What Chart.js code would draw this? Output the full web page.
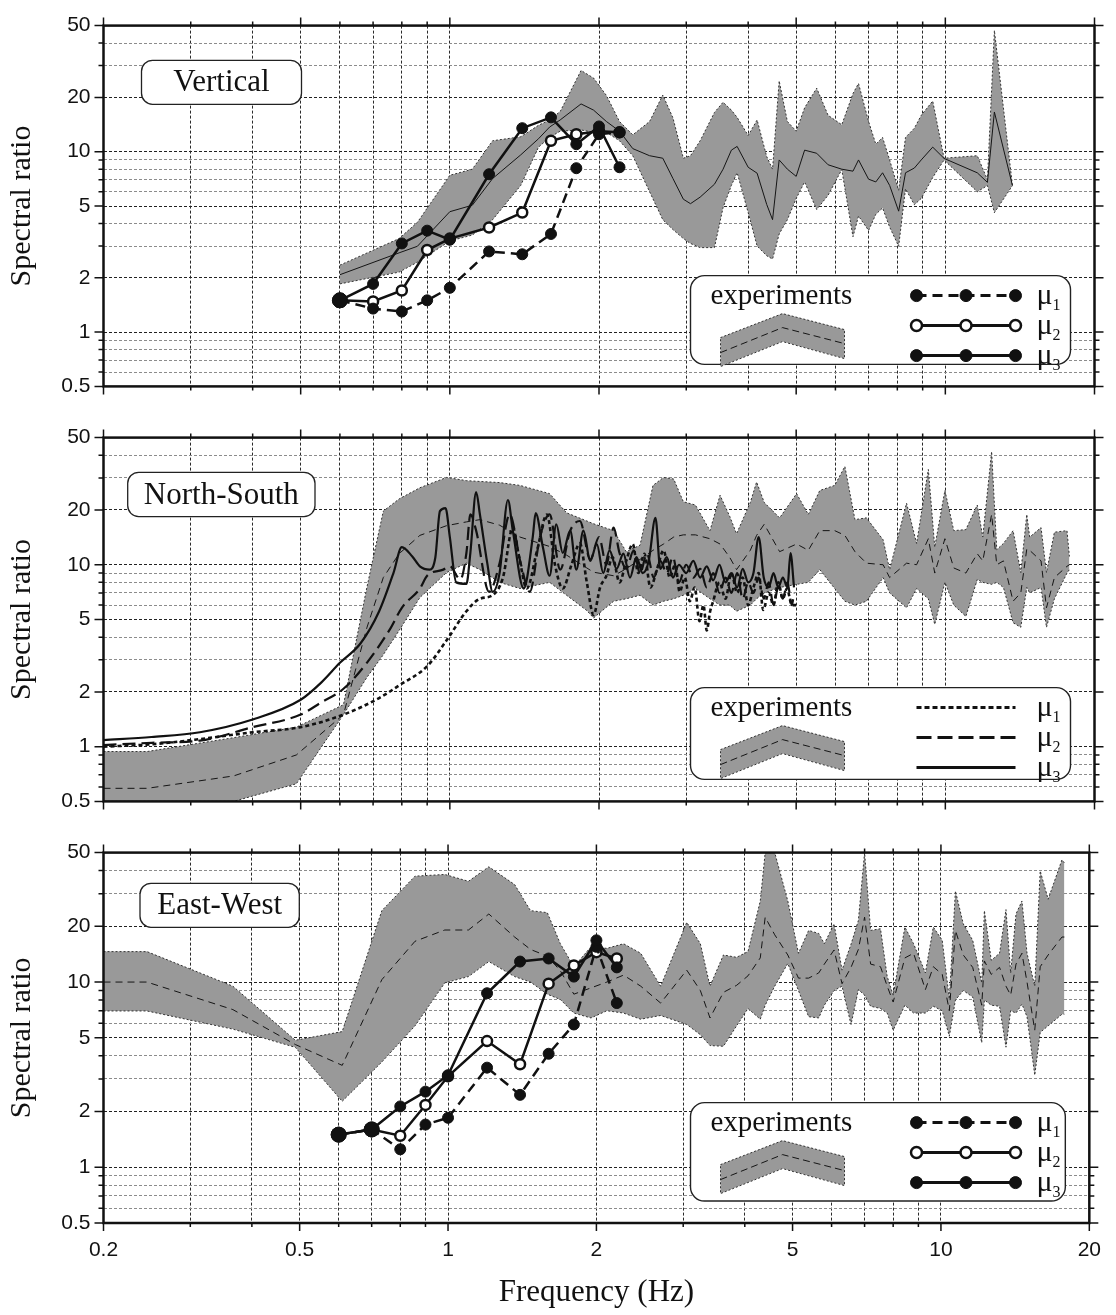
<!DOCTYPE html>
<html><head><meta charset="utf-8"><title>Spectral ratio</title>
<script src="https://cdn.jsdelivr.net/npm/chart.js@4.4.1/dist/chart.umd.min.js"></script>
<style>
html,body{margin:0;padding:0;background:#fff;}
#wrap{position:relative;width:1116px;height:1315px;overflow:hidden;background:#fff;}
#wrap canvas{position:absolute;left:0;}
</style></head><body><div id="wrap">
<canvas id="cV" width="1116" height="412" style="top:0px;width:1116px;height:412px"></canvas>
<canvas id="cN" width="1116" height="415" style="top:412px;width:1116px;height:415px"></canvas>
<canvas id="cE" width="1116" height="488" style="top:827px;width:1116px;height:488px"></canvas>
</div>
<script>
// ---------------- DATA ----------------
const X_TICKS = [0.2,0.3,0.4,0.5,0.6,0.7,0.8,0.9,1,2,3,4,5,6,7,8,9,10,20];
const X_LABELS = [0.2,0.5,1,2,5,10,20];
const Y_TICKS = [0.5,0.6,0.7,0.8,0.9,1,2,3,4,5,6,7,8,9,10,20,30,40,50];
const Y_LABELS = [0.5,1,2,5,10,20,50];
const Y_MAJOR_GRID = [1,2,5,10,20];
const X_TITLE = 'Frequency (Hz)';
const Y_TITLE = 'Spectral ratio';
const PANEL_NAMES = ['Vertical','North-South','East-West'];
const LEGEND_BAND = 'experiments';
const LEGEND_MODELS = ['1','2','3'];   // subscripts of μ

// model frequencies (panels Vertical and East-West)
const MODEL_F = [0.6,0.7,0.8,0.9,1.0,1.2,1.4,1.6,1.8,2.0,2.2];

// ---- Vertical ----
const V_MU1 = [1.5,1.35,1.3,1.5,1.76,2.8,2.7,3.5,8.1,12.5,12.8];
const V_MU2 = [1.5,1.48,1.7,2.85,3.3,3.8,4.6,11.5,12.5,13.0,12.8];
const V_MU3 = [1.5,1.85,3.1,3.65,3.25,7.5,13.5,15.5,11.0,13.8,8.2];
const V_F = [0.6,0.79,0.86,1.0,1.11,1.22,1.39,1.51,1.59,1.67,
  1.84,1.95,2.07,2.2,2.34,2.53,2.69,2.82,2.96,3.06,
  3.2,3.42,3.56,3.7,3.8,4.0,4.17,4.36,4.48,4.62,
  4.8,5.0,5.2,5.5,5.8,6.18,6.51,6.68,7.0,7.24,
  7.47,7.72,8.05,8.31,8.66,8.94,9.43,9.94,11.6,12.16,
  12.56,13.66];
const V_LO = [1.85,2.15,2.44,3.2,3.45,4.2,6.5,10.6,12.0,13.0,
  13.2,12.8,12.8,11.5,9.5,6.0,4.2,3.7,3.3,3.1,
  2.94,2.94,4.9,6.5,7.65,4.6,3.0,2.65,2.54,3.5,
  4.2,5.5,6.8,4.78,5.74,7.96,3.38,4.4,3.66,4.5,
  4.88,3.82,2.99,6.23,5.08,5.51,7.19,9.0,6.0,6.49,
  4.59,6.49];
const V_MID = [2.08,2.75,2.99,4.65,5.05,7.1,9.6,11.8,13.7,15.0,
  18.4,17.0,14.7,13.0,10.4,9.5,9.2,7.1,5.45,5.15,
  5.6,6.6,8.0,10.2,10.7,8.2,7.6,5.1,4.2,9.0,
  8.0,7.3,10.2,9.8,8.46,8.0,7.8,9.0,7.04,6.8,
  7.64,6.5,4.68,7.64,8.12,9.0,10.6,9.18,7.64,6.76,
  16.6,6.49];
const V_HI = [2.35,3.3,4.06,7.4,8.0,11.5,12.1,14.0,15.0,16.7,
  28.2,25.6,20.5,14.7,12.4,14.7,20.6,15.4,9.2,9.5,
  11.5,16.5,18.8,17.0,15.5,12.3,15.0,9.4,8.0,24.7,
  14.7,13.0,17.5,22.5,15.9,14.1,21.0,23.9,14.7,11.0,
  12.0,9.0,6.1,12.0,13.5,15.9,19.1,9.2,9.5,7.0,
  47,6.49];

// ---- North-South ----
const N_F = [0.2,0.245,0.366,0.49,0.61,0.68,0.734,0.79,0.87,0.985,
  1.08,1.15,1.26,1.385,1.59,1.72,1.89,1.95,2.14,2.27,
  2.42,2.57,2.7,2.83,2.96,3.13,3.35,3.51,3.67,3.79,
  4.04,4.16,4.31,4.63,5.01,5.29,5.58,5.98,6.27,6.57,
  6.93,7.49,7.72,8.35,8.75,9.24,9.52,9.98,10.4,11.0,
  11.6,11.9,12.4,12.7,13.1,13.7,14.2,14.6,14.8,15.6,
  16.0,16.6,17.6,17.8];
const N_HI = [0.94,0.94,1.12,1.28,1.7,7.5,19.7,23,26.5,30.2,
  29,28.7,28.3,27.3,24.6,19.3,17.4,16.8,15.4,11.8,
  12.8,27.3,30.2,29.6,22.2,21.3,15.4,24.1,18.5,14.8,
  22,28.5,22,18.1,24.6,18.9,25.6,27.3,34.7,17.7,
  18.1,13.7,9.4,21.8,13.1,33.4,12.5,25.6,15.4,15.6,
  21.3,14.2,41.9,12.1,13.1,15.4,9.06,18.9,14.2,16.0,
  9.06,15.1,15.4,11.1];
const N_LO = [0.5,0.5,0.5,0.625,1.5,2.4,3.2,4.35,6.6,9.06,
  10.2,9.4,8.0,7.4,8.0,6.8,5.6,5.1,6.3,6.5,
  6.8,6.0,6.3,6.5,6.8,7.4,6.5,6.0,6.0,5.55,
  6.0,6.5,7.0,7.5,7.8,8.0,9.4,7.4,6.3,6.0,
  6.3,8.5,7.0,5.8,7.4,6.5,4.7,8.0,6.0,5.2,
  8.3,8.0,7.8,8.0,7.5,4.8,4.53,7.5,7.0,7.5,
  4.53,6.5,9.0,9.4];
const N_MID = [0.59,0.59,0.69,0.9,1.5,4.5,8.5,11.5,14.5,16.4,
  17.2,17.7,16.5,14.2,12.6,11.3,9.6,9.1,8.7,9.5,
  10.7,12.0,13.0,14.2,14.6,14.6,13.9,13.0,11.0,9.4,
  12,14.5,16.7,11.8,13.0,12.0,15.4,15.4,14.5,11.8,
  10.2,10.0,8.5,10.2,10.0,13.9,9.0,13.9,9.6,9.0,
  11.5,10.5,18.9,10.0,10.5,6.3,7.0,12.2,12.0,10.5,
  5.8,8.5,9.8,10.0];
const N_MU1_F = [0.2,0.25,0.313,0.4,0.5,0.61,0.72,0.79,0.9,0.985,
  1.08,1.15,1.22,1.28,1.34,1.38,1.43,1.5,1.57,1.63,
  1.69,1.76,1.83,1.89,1.95,2.01,2.07,2.13,2.2,2.27,
  2.34,2.4,2.47,2.54,2.62,2.7,2.78,2.85,2.91,2.98,
  3.05,3.12,3.19,3.25,3.3,3.35,3.4,3.5,3.6,3.7,
  3.8,3.9,4.0,4.1,4.2,4.29,4.4,4.5,4.6,4.7,
  4.79,4.9,5.0];
const N_MU1 = [1.0,1.03,1.1,1.2,1.28,1.5,1.85,2.17,2.77,3.84,
  5.55,6.5,6.8,8.5,16.0,11,7.4,12,18.9,10,
  7.4,10,13.1,8,5.3,7.5,8.7,11,8.0,10.5,
  13,9.0,11.5,7.5,9.5,12,8.5,10,7.1,8.5,
  6.3,7.5,4.9,6.0,4.35,5.5,6.3,8.0,6.5,9.0,
  7.0,8.5,6.0,7.5,9.0,5.65,7.0,6.0,8.0,6.5,
  7.4,6.0,6.0];
const N_MU2_F = [0.2,0.25,0.313,0.4,0.5,0.55,0.61,0.68,0.76,0.8,
  0.87,0.9,0.97,1.0,1.05,1.08,1.1,1.13,1.2,1.26,
  1.32,1.39,1.45,1.52,1.59,1.67,1.75,1.83,1.92,2.0,
  2.07,2.14,2.2,2.27,2.35,2.42,2.5,2.58,2.66,2.74,
  2.82,2.9,3.0,3.1,3.2,3.3,3.4,3.5,3.6,3.7,
  3.8,3.9,4.0,4.1,4.2,4.3,4.4,4.5,4.6,4.7,
  4.8,4.9,4.95];
const N_MU2 = [1.02,1.05,1.08,1.28,1.5,1.75,2.08,2.89,4.5,5.8,
  7.4,8.7,9.4,9.8,8.3,11.6,18.9,15.4,7.1,10.2,
  18.9,10.2,7.1,14.2,18.9,9.4,15.4,17.4,10.7,14.2,
  10.0,16.0,11.6,9.5,12.0,9.0,11.5,8.5,10.5,9.0,
  11.0,8.0,10.0,8.5,9.5,7.5,9.0,7.0,8.5,7.0,
  9.0,6.5,8.0,7.0,8.5,6.5,8.0,6.0,7.5,6.5,
  8.0,6.0,7.0];
const N_MU3_F = [0.2,0.25,0.313,0.4,0.5,0.55,0.6,0.66,0.72,0.77,
  0.8,0.84,0.87,0.91,0.935,0.955,0.98,1.0,1.03,1.08,
  1.1,1.13,1.15,1.19,1.22,1.26,1.31,1.34,1.41,1.47,
  1.49,1.54,1.59,1.64,1.69,1.75,1.8,1.86,1.92,1.98,
  2.04,2.1,2.17,2.24,2.31,2.38,2.45,2.52,2.6,2.66,
  2.74,2.82,2.9,3.0,3.1,3.2,3.3,3.4,3.5,3.6,
  3.7,3.8,3.9,4.0,4.1,4.2,4.3,4.4,4.5,4.6,
  4.7,4.8,4.87,4.95];
const N_MU3 = [1.085,1.13,1.2,1.41,1.81,2.25,2.89,3.69,5.55,9.06,
  12.5,11.1,9.8,9.4,11,19.7,20.5,14.2,8.0,7.85,
  11.6,25.1,18.9,10.2,7.1,9.0,22.7,15.4,7.4,14.2,
  19.2,12.6,8.7,16.7,11.6,15.4,9.4,15.4,10.5,13,
  9.0,12,9.5,11.5,8.5,11,9.0,10.5,18.1,9.5,
  11,8.5,10,9.0,10.5,8.5,9.8,8.2,10.0,8.0,
  9.0,7.5,9.5,8.0,9.0,14.2,8.5,7.5,9.0,7.5,
  8.5,7.5,11.6,7.5];

// ---- East-West ----
const E_MU1 = [1.5,1.6,1.25,1.7,1.85,3.45,2.46,4.1,5.9,15.5,7.7];
const E_MU2 = [1.5,1.6,1.48,2.17,3.1,4.8,3.6,9.8,12.3,14.5,13.4];
const E_MU3 = [1.5,1.6,2.13,2.56,3.14,8.7,12.9,13.4,10.7,16.8,12.0];
const E_F = [0.2,0.245,0.366,0.49,0.61,0.734,0.857,0.985,1.1,1.21,
  1.365,1.47,1.59,1.69,1.8,1.95,2.1,2.27,2.46,2.7,
  3.05,3.25,3.4,3.62,3.85,4.06,4.3,4.4,4.6,4.89,
  5.14,5.39,5.65,5.8,6.07,6.3,6.57,6.8,7.0,7.2,
  7.54,7.78,8.0,8.45,8.8,9.3,9.65,10.06,10.4,10.7,
  11.1,11.6,12.1,12.25,12.65,13.15,13.55,13.85,14.2,14.6,
  14.95,15.5,15.9,16.5,17.6,17.8];
const E_HI = [14.6,14.6,9.5,4.85,5.4,24.3,37.3,38.1,35.0,41.9,
  33.6,24.3,23.7,16.1,12.1,15.5,15.2,16.1,14.3,9.5,
  21.0,16.1,9.5,14.0,13.6,14.6,27.4,50,50,27.4,
  14.3,19.0,18.3,16.1,20.6,11.6,16.0,21.5,50,19.0,
  19.4,10.7,8.5,19.8,16.1,11.2,19.8,16.8,8.1,31,
  20.6,16.8,9.9,24.3,13.1,14.3,24.6,11.2,23.3,27.4,
  14.3,9.5,39.8,28,45.7,44];
const E_LO = [6.98,6.98,5.57,4.44,2.27,3.7,5.8,9.9,10.7,12.9,
  10.7,10.0,8.6,8.05,6.8,6.4,7.0,6.8,6.3,6.6,
  5.9,5.2,4.54,4.5,5.8,7.2,6.3,7.5,9.5,12.6,
  9.0,6.5,6.4,7.5,9.0,9.5,5.9,9.1,8.5,7.4,
  7.2,6.8,5.5,7.5,6.8,6.8,7.4,7.0,5.1,8.0,
  9.0,8.3,4.7,8.0,7.5,7.4,4.45,7.0,6.8,7.6,
  6.5,3.14,5.35,5.8,6.7,6.7];
const E_MID = [10.0,10.0,7.1,4.6,3.55,10.3,16.6,19.1,19.1,23.3,
  17.5,15.0,13.8,11.5,8.6,9.3,10.0,10.9,9.5,7.7,
  11.6,9.0,6.4,8.8,9.6,10.8,13.5,22.4,18.0,14.0,
  10.5,10.5,11.2,12.5,14.9,9.8,12.0,15.0,22.4,12.5,
  12.1,9.5,7.8,13.5,14.3,9.1,12.1,11.0,7.0,19.0,
  14.0,12.0,7.5,13.0,11.0,12.0,9.5,8.5,12.5,14.3,
  10.0,5.5,12.1,14.0,17.5,17.5];

// ---------------- STYLE / HELPERS ----------------
const INK = '#111';
const BAND_FILL = '#999999';
const SERIF = '"Liberation Serif", "Times New Roman", serif';
const SANS = '"Liberation Sans", Arial, sans-serif';

function pts(F, V){ return F.map((f,i)=>({x:f, y:V[i]})); }

function rrect(ctx,x,y,w,h,r){
  ctx.beginPath(); ctx.moveTo(x+r,y); ctx.lineTo(x+w-r,y); ctx.arcTo(x+w,y,x+w,y+r,r);
  ctx.lineTo(x+w,y+h-r); ctx.arcTo(x+w,y+h,x+w-r,y+h,r); ctx.lineTo(x+r,y+h);
  ctx.arcTo(x,y+h,x,y+h-r,r); ctx.lineTo(x,y+r); ctx.arcTo(x,y,x+r,y,r); ctx.closePath();
}

function bandSets(F, LO, MID, HI, midDash){
  return [
    {data:pts(F,LO), borderColor:'#333', borderWidth:1, borderDash:[2,2], pointRadius:0, fill:false},
    {data:pts(F,MID), borderColor:'#151515', borderWidth:1, borderDash:midDash, pointRadius:0, fill:false},
    {data:pts(F,HI), borderColor:'#333', borderWidth:1, borderDash:[2,2], pointRadius:0,
     backgroundColor:BAND_FILL, fill:'-2'}
  ];
}
// where all three model values coincide the markers pile up and look larger
function coincide(A,B,C){ return A.map((v,i)=>v===B[i] && v===C[i]); }
function markerSet(F, V, open, dash, same){
  return {data:pts(F,V), borderColor:INK, borderWidth:2.5, borderDash:dash||[],
    pointRadius:c=>open?5:(same && same[c.dataIndex] ? 7.5 : 5.5),
    pointBorderWidth:open?2.5:1, pointBorderColor:INK,
    pointBackgroundColor:open?'#fff':INK, fill:false};
}
function curveSet(F, V, dash, width){
  return {data:pts(F,V), borderColor:INK, borderWidth:width, borderDash:dash,
    pointRadius:0, fill:false, cubicInterpolationMode:'monotone'};
}

function drawMarker(ctx,x,y,open){
  ctx.beginPath(); ctx.arc(x,y,open?5.5:6,0,Math.PI*2);
  ctx.fillStyle = open ? '#fff' : INK; ctx.fill();
  ctx.lineWidth = open?2.5:1; ctx.strokeStyle = INK; ctx.stroke();
}

function drawLegend(ctx,a,kind){
  const L=a.left+587, T=a.top+250, W=(a.right-24)-L, H=(a.bottom-22)-T;
  rrect(ctx,L,T,W,H,14); ctx.fillStyle='#fff'; ctx.fill();
  ctx.setLineDash([]); ctx.lineWidth=1.4; ctx.strokeStyle='#222'; ctx.stroke();
  ctx.fillStyle=INK; ctx.font='29px '+SERIF; ctx.textAlign='left'; ctx.textBaseline='alphabetic';
  ctx.fillText(LEGEND_BAND, L+20, T+28);
  // chevron swatch
  const top=[[L+30,T+62],[L+92,T+38],[L+154,T+54]];
  const bot=[[L+154,T+83],[L+92,T+66],[L+30,T+91]];
  ctx.beginPath(); ctx.moveTo(top[0][0],top[0][1]);
  top.slice(1).forEach(p=>ctx.lineTo(p[0],p[1])); bot.forEach(p=>ctx.lineTo(p[0],p[1])); ctx.closePath();
  ctx.fillStyle=BAND_FILL; ctx.fill();
  ctx.setLineDash([2,2]); ctx.lineWidth=1; ctx.strokeStyle='#333'; ctx.stroke();
  ctx.beginPath(); ctx.moveTo(L+30,T+77); ctx.lineTo(L+92,T+52); ctx.lineTo(L+154,T+68);
  ctx.setLineDash([7,4]); ctx.strokeStyle='#151515'; ctx.stroke();
  // model entries
  for(let i=0;i<3;i++){
    const y=T+20+30*i, x1=L+226, x2=L+325;
    ctx.beginPath(); ctx.moveTo(x1,y); ctx.lineTo(x2,y); ctx.strokeStyle=INK; ctx.lineWidth=3;
    if(kind==='markers'){ ctx.setLineDash(i===0?[10,6]:[]); }
    else { ctx.setLineDash(i===0?[5,3]:(i===1?[15,6]:[])); }
    ctx.stroke(); ctx.setLineDash([]);
    if(kind==='markers'){ [x1,(x1+x2)/2,x2].forEach(x=>drawMarker(ctx,x,y,i===1)); }
    ctx.fillStyle=INK; ctx.font='30px '+SERIF; ctx.textAlign='left'; ctx.textBaseline='alphabetic';
    ctx.fillText('\u03bc', L+346, y+8);
    ctx.font='16px '+SERIF; ctx.fillText(LEGEND_MODELS[i], L+362, y+14);
  }
}

function decor(cfg){
  return {id:'decor', afterDraw(chart){
    const ctx=chart.ctx, a=chart.chartArea, xs=chart.scales.x, ys=chart.scales.y;
    ctx.save();
    ctx.setLineDash([]); ctx.strokeStyle=INK; ctx.lineWidth=1.5; ctx.beginPath();
    Y_TICKS.forEach(v=>{const y=ys.getPixelForValue(v); const n=Y_LABELS.includes(v)?9:5;
      ctx.moveTo(a.left-n,y); ctx.lineTo(a.left,y); ctx.moveTo(a.right,y); ctx.lineTo(a.right+n,y);});
    X_TICKS.forEach(v=>{const x=xs.getPixelForValue(v); const n=X_LABELS.includes(v)?8:4;
      ctx.moveTo(x,a.top-n); ctx.lineTo(x,a.top); ctx.moveTo(x,a.bottom); ctx.lineTo(x,a.bottom+n);});
    ctx.stroke();
    ctx.lineWidth=2.5; ctx.strokeRect(a.left,a.top,a.right-a.left,a.bottom-a.top);
    // y title
    ctx.save(); ctx.translate(22,(a.top+a.bottom)/2); ctx.rotate(-Math.PI/2);
    ctx.fillStyle=INK; ctx.font='30px '+SERIF; ctx.textAlign='center'; ctx.textBaseline='middle';
    ctx.fillText(Y_TITLE,0,0); ctx.restore();
    // panel name box
    const b=cfg.box;
    rrect(ctx,a.left+b[0],a.top+b[1],b[2],b[3],11); ctx.fillStyle='#fff'; ctx.fill();
    ctx.lineWidth=1.3; ctx.strokeStyle='#222'; ctx.stroke();
    ctx.fillStyle=INK; ctx.font='31px '+SERIF; ctx.textAlign='center'; ctx.textBaseline='middle';
    ctx.fillText(cfg.name, a.left+b[0]+b[2]/2, a.top+b[1]+b[3]/2+1);
    drawLegend(ctx,a,cfg.legend);
    if(cfg.xTitle){
      ctx.fillStyle=INK; ctx.font='31px '+SERIF; ctx.textAlign='center'; ctx.textBaseline='alphabetic';
      ctx.fillText(X_TITLE,(a.left+a.right)/2, a.bottom+78);
    }
    ctx.restore();
  }};
}

function makeChart(id, cfg){
  return new Chart(document.getElementById(id), {
    type:'line',
    data:{datasets:cfg.datasets},
    options:{
      responsive:false, animation:false, events:[],
      layout:{padding:{top:cfg.padTop, left:0, right:21.5, bottom:0}},
      plugins:{legend:{display:false}, tooltip:{enabled:false}, title:{display:false}},
      elements:{line:{tension:0}, point:{hitRadius:0}},
      scales:{
        x:{type:'logarithmic', min:0.2, max:20, position:'bottom',
          afterBuildTicks:s=>{ s.ticks = X_TICKS.map(v=>({value:v})); },
          afterFit:s=>{ s.height = cfg.xAxisH; },
          ticks:{display:cfg.xTitle, autoSkip:false, maxRotation:0, minRotation:0, padding:15, color:INK,
            font:{family:SANS, size:21}, callback:v=>X_LABELS.includes(v)?String(v):''},
          grid:{drawTicks:false, color:'#2a2a2a', lineWidth:1},
          border:{display:false, dash:[3,2]}},
        y:{type:'logarithmic', min:0.5, max:50, position:'left',
          afterBuildTicks:s=>{ s.ticks = Y_TICKS.map(v=>({value:v})); },
          afterFit:s=>{ s.width = 103.5; },
          ticks:{autoSkip:false, padding:13, color:INK, font:{family:SANS, size:21},
            callback:v=>Y_LABELS.includes(v)?String(v):''},
          grid:{drawTicks:false, lineWidth:1,
            color:c=>(c.tick && Y_MAJOR_GRID.includes(c.tick.value)) ? '#222' : '#8c8c8c'},
          border:{display:false, dash:[3,2]}}
      }
    },
    plugins:[decor(cfg)]
  });
}

Chart.defaults.font.family = SANS;

const V_SAME = coincide(V_MU1,V_MU2,V_MU3);
const E_SAME = coincide(E_MU1,E_MU2,E_MU3);

makeChart('cV', {padTop:17, xAxisH:19, xTitle:false, name:PANEL_NAMES[0], box:[38,34.7,160,44], legend:'markers',
  datasets:[markerSet(MODEL_F,V_MU3,false,[],V_SAME), markerSet(MODEL_F,V_MU1,false,[10,6],V_SAME), markerSet(MODEL_F,V_MU2,true)]
    .concat(bandSets(V_F,V_LO,V_MID,V_HI,[]))});

makeChart('cN', {padTop:19, xAxisH:20, xTitle:false, name:PANEL_NAMES[1], box:[24.2,34.7,187.3,44.3], legend:'lines',
  datasets:[curveSet(N_MU3_F,N_MU3,[],2.2), curveSet(N_MU2_F,N_MU2,[13,6],2.2), curveSet(N_MU1_F,N_MU1,[4,3],2.6)]
    .concat(bandSets(N_F,N_LO,N_MID,N_HI,[7,5]))});

makeChart('cE', {padTop:20, xAxisH:92, xTitle:true, name:PANEL_NAMES[2], box:[36.5,30.7,159.3,44], legend:'markers',
  datasets:[markerSet(MODEL_F,E_MU3,false,[],E_SAME), markerSet(MODEL_F,E_MU1,false,[10,6],E_SAME), markerSet(MODEL_F,E_MU2,true)]
    .concat(bandSets(E_F,E_LO,E_MID,E_HI,[7,5]))});
</script></body></html>
